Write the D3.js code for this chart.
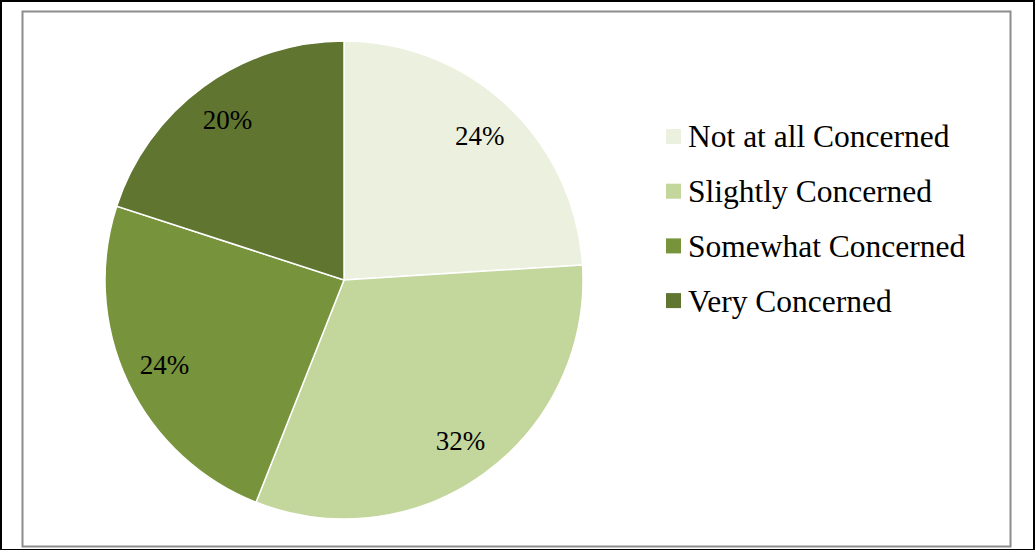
<!DOCTYPE html>
<html>
<head>
<meta charset="utf-8">
<script src="https://cdn.jsdelivr.net/npm/d3@7"></script>
<style>
  body { margin: 0; background: #fff; }
  svg { display: block; }
</style>
</head>
<body>
<div class="canvas"></div>
<script>
const categories = ["Not at all Concerned", "Slightly Concerned", "Somewhat Concerned", "Very Concerned"];
const values = [24, 32, 24, 20];
const colors = ["#ebf1de", "#c3d69b", "#77933c", "#5f7530"];

const dims = { width: 1035, height: 550 };

const svg = d3
  .select(".canvas")
  .append("svg")
  .attr("width", dims.width)
  .attr("height", dims.height);

// outer frame
svg.append("rect")
  .attr("x", 1).attr("y", 1)
  .attr("width", dims.width - 2).attr("height", dims.height - 1)
  .attr("fill", "none").attr("stroke", "#000").attr("stroke-width", 2);

// chart area border
svg.append("rect")
  .attr("x", 22.5).attr("y", 11.5)
  .attr("width", 988).attr("height", 535)
  .attr("fill", "#fff").attr("stroke", "#8c8c8c").attr("stroke-width", 2);

const cx = 344, cy = 280, r = 239;

const pie = d3.pie().sort(null).value((d) => d);
const arcs = pie(values);
const arc = d3.arc().innerRadius(0).outerRadius(r);
const labelArc = d3.arc().innerRadius(r * 0.83).outerRadius(r * 0.83);

const g = svg.append("g").attr("transform", `translate(${cx},${cy})`);

g.selectAll("path")
  .data(arcs)
  .join("path")
  .attr("d", arc)
  .attr("fill", (d, i) => colors[i])
  .attr("stroke", "#fff")
  .attr("stroke-width", 1.5);

g.selectAll("text")
  .data(arcs)
  .join("text")
  .attr("transform", (d) => `translate(${labelArc.centroid(d)})`)
  .attr("text-anchor", "middle")
  .attr("dy", "0.35em")
  .style("font-family", "'Liberation Serif', 'Times New Roman', serif")
  .style("font-size", "27px")
  .attr("fill", "#000")
  .text((d) => d.data + "%");

// legend
const legend = svg.append("g")
  .selectAll("g")
  .data(categories)
  .join("g")
  .attr("transform", (d, i) => `translate(666, ${137 + i * 54.7})`);

legend.append("rect")
  .attr("x", 0).attr("y", -8)
  .attr("width", 15).attr("height", 15)
  .attr("fill", (d, i) => colors[i]);

legend.append("text")
  .attr("x", 22)
  .attr("dy", "0.33em")
  .style("font-family", "'Liberation Serif', 'Times New Roman', serif")
  .style("font-size", "31.5px")
  .attr("fill", "#000")
  .text((d) => d);
</script>
</body>
</html>
